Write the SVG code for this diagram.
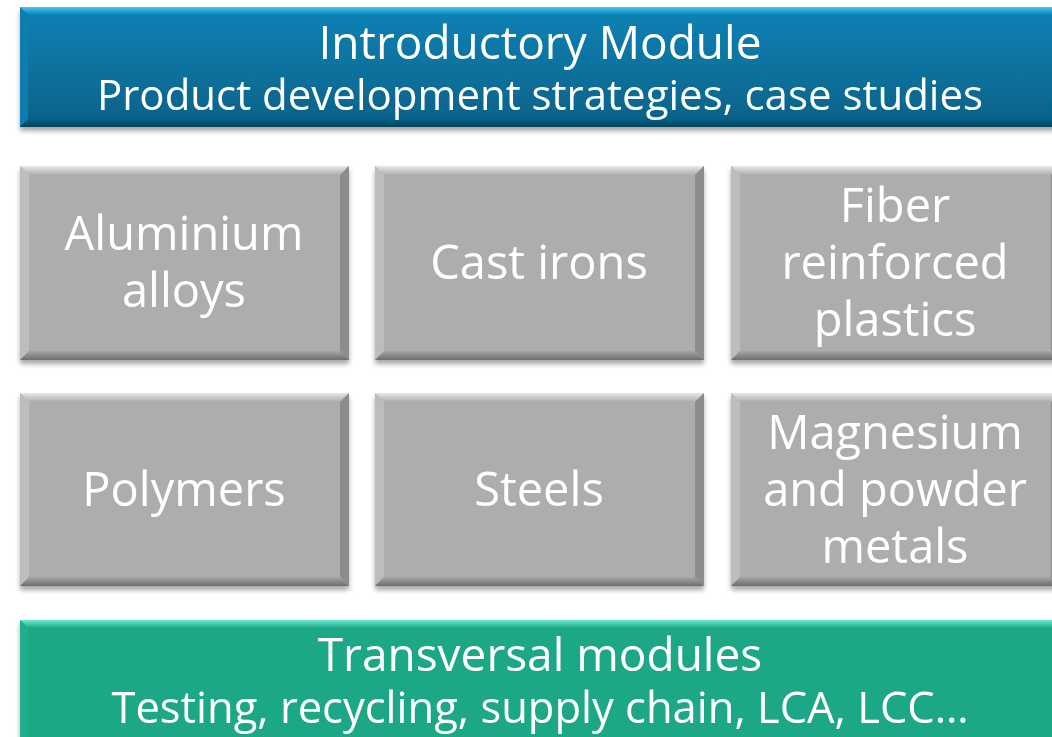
<svg xmlns="http://www.w3.org/2000/svg" width="1052" height="737" viewBox="0 0 1052 737">
<defs>
<style>
text{font-family:"Open Sans","Noto Sans","DejaVu Sans",sans-serif;fill:#ffffff;text-anchor:middle}
.h1{font-size:46px}
.t1{font-size:42px}
.t3{font-size:43.5px}
.t2{font-size:47px}
</style>
<filter id="sh" x="-5%" y="-10%" width="110%" height="130%">
<feGaussianBlur in="SourceAlpha" stdDeviation="2.5"/>
<feOffset dy="4" result="b"/>
<feComponentTransfer><feFuncA type="linear" slope="0.35"/></feComponentTransfer>
<feMerge><feMergeNode/><feMergeNode in="SourceGraphic"/></feMerge>
</filter>
<linearGradient id="blue" x1="0" y1="0" x2="0" y2="1">
<stop offset="0" stop-color="#0a82b5"/><stop offset="1" stop-color="#066288"/>
</linearGradient>
<linearGradient id="btop" x1="0" y1="0" x2="0" y2="1">
<stop offset="0" stop-color="#45c8f5"/><stop offset="1" stop-color="#0a82b5"/>
</linearGradient>
<linearGradient id="bbot" x1="0" y1="0" x2="0" y2="1">
<stop offset="0" stop-color="#066288"/><stop offset="1" stop-color="#034259"/>
</linearGradient>
<linearGradient id="gtop" x1="0" y1="0" x2="0" y2="1">
<stop offset="0" stop-color="#e8e8e8"/><stop offset="1" stop-color="#adadad"/>
</linearGradient>
<linearGradient id="gbot" x1="0" y1="0" x2="0" y2="1">
<stop offset="0" stop-color="#a6a6a6"/><stop offset="1" stop-color="#6e6e6e"/>
</linearGradient>
<linearGradient id="ntop" x1="0" y1="0" x2="0" y2="1">
<stop offset="0" stop-color="#6aedd0"/><stop offset="1" stop-color="#1fa887"/>
</linearGradient>
</defs>

<g id="intro" filter="url(#sh)">
<rect x="20" y="7" width="1040" height="120" fill="url(#blue)"/>
<polygon points="20,7 1060,7 1052,15 28,15" fill="url(#btop)"/>
<polygon points="20,7 28,15 28,119 20,127" fill="#0b7eae"/>
<polygon points="20,127 28,119 1052,119 1060,127" fill="url(#bbot)"/>
<text class="h1" x="540" y="59">Introductory Module</text>
<text class="t1" x="540" y="110">Product development strategies, case studies</text>
</g>

<g id="aluminium" filter="url(#sh)">
<rect x="20" y="166" width="329" height="194" fill="#adadad"/>
<polygon points="20,166 349,166 340,175 29,175" fill="url(#gtop)"/>
<polygon points="20,166 29,175 29,351 20,360" fill="#bdbdbd"/>
<polygon points="349,166 340,175 340,351 349,360" fill="#8c8c8c"/>
<polygon points="20,360 29,351 340,351 349,360" fill="url(#gbot)"/>
<text class="t2" x="184" y="250">Aluminium</text>
<text class="t2" x="184" y="307">alloys</text>
</g>

<g id="castirons" filter="url(#sh)">
<rect x="375" y="166" width="329" height="194" fill="#adadad"/>
<polygon points="375,166 704,166 695,175 384,175" fill="url(#gtop)"/>
<polygon points="375,166 384,175 384,351 375,360" fill="#bdbdbd"/>
<polygon points="704,166 695,175 695,351 704,360" fill="#8c8c8c"/>
<polygon points="375,360 384,351 695,351 704,360" fill="url(#gbot)"/>
<text class="t2" x="539" y="279">Cast irons</text>
</g>

<g id="fiber" filter="url(#sh)">
<rect x="731" y="166" width="329" height="194" fill="#adadad"/>
<polygon points="731,166 1060,166 1051,175 740,175" fill="url(#gtop)"/>
<polygon points="731,166 740,175 740,351 731,360" fill="#bdbdbd"/>
<polygon points="1060,166 1051,175 1051,351 1060,360" fill="#8c8c8c"/>
<polygon points="731,360 740,351 1051,351 1060,360" fill="url(#gbot)"/>
<text class="t2" x="895" y="222">Fiber</text>
<text class="t2" x="895" y="279">reinforced</text>
<text class="t2" x="895" y="336">plastics</text>
</g>

<g id="polymers" filter="url(#sh)">
<rect x="20" y="393" width="329" height="193" fill="#adadad"/>
<polygon points="20,393 349,393 340,402 29,402" fill="url(#gtop)"/>
<polygon points="20,393 29,402 29,577 20,586" fill="#bdbdbd"/>
<polygon points="349,393 340,402 340,577 349,586" fill="#8c8c8c"/>
<polygon points="20,586 29,577 340,577 349,586" fill="url(#gbot)"/>
<text class="t2" x="184" y="506">Polymers</text>
</g>

<g id="steels" filter="url(#sh)">
<rect x="375" y="393" width="329" height="193" fill="#adadad"/>
<polygon points="375,393 704,393 695,402 384,402" fill="url(#gtop)"/>
<polygon points="375,393 384,402 384,577 375,586" fill="#bdbdbd"/>
<polygon points="704,393 695,402 695,577 704,586" fill="#8c8c8c"/>
<polygon points="375,586 384,577 695,577 704,586" fill="url(#gbot)"/>
<text class="t2" x="539" y="506">Steels</text>
</g>

<g id="magnesium" filter="url(#sh)">
<rect x="731" y="393" width="329" height="193" fill="#adadad"/>
<polygon points="731,393 1060,393 1051,402 740,402" fill="url(#gtop)"/>
<polygon points="731,393 740,402 740,577 731,586" fill="#bdbdbd"/>
<polygon points="1060,393 1051,402 1051,577 1060,586" fill="#8c8c8c"/>
<polygon points="731,586 740,577 1051,577 1060,586" fill="url(#gbot)"/>
<text class="t2" x="895" y="449">Magnesium</text>
<text class="t2" x="895" y="506">and powder</text>
<text class="t2" x="895" y="563">metals</text>
</g>

<g id="transversal" filter="url(#sh)">
<rect x="20" y="620" width="1040" height="130" fill="#1fa887"/>
<polygon points="20,620 1060,620 1052,628 28,628" fill="url(#ntop)"/>
<polygon points="20,620 28,628 28,750 20,750" fill="#22ad8c"/>
<text class="h1" x="540" y="671">Transversal modules</text>
<text class="t3" x="540" y="723">Testing, recycling, supply chain, LCA, LCC…</text>
</g>

<g id="connectors"></g>
</svg>
